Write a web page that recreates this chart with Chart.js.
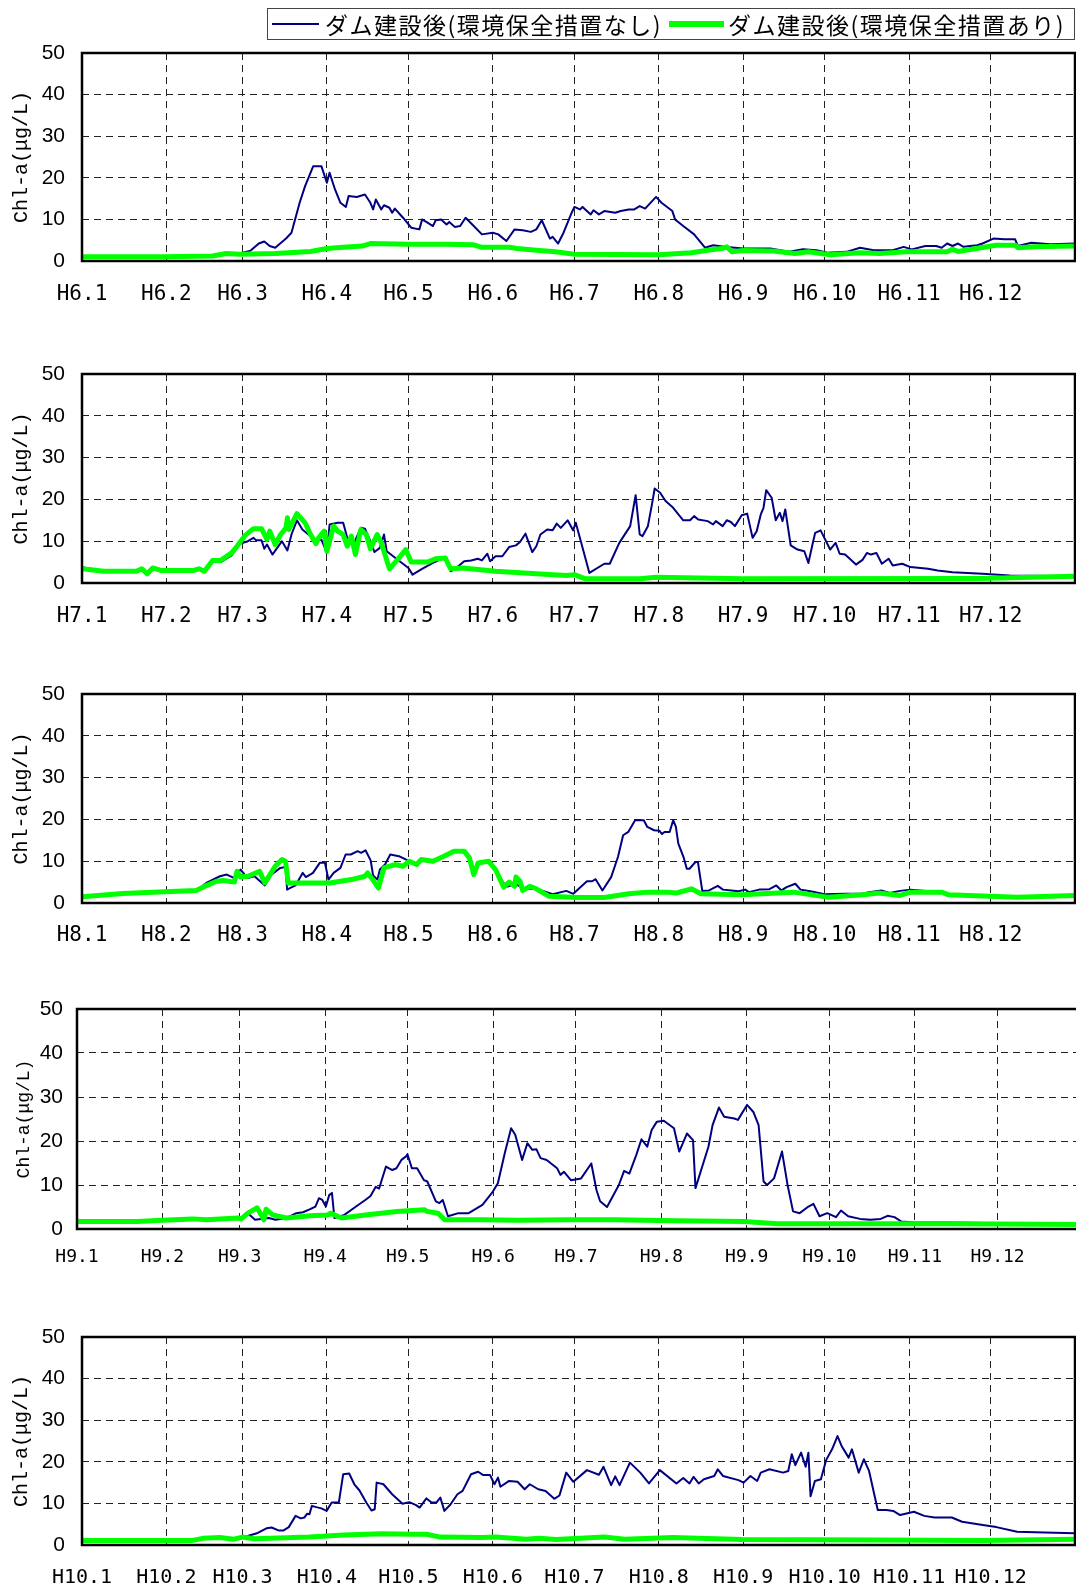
<!DOCTYPE html>
<html>
<head>
<meta charset="utf-8">
<script src="https://cdn.jsdelivr.net/npm/chart.js@4.4.1/dist/chart.umd.min.js"></script>
<style>
body { margin: 0; width: 1076px; height: 1587px; overflow: hidden; background: #fff; position: relative; }
.panel { position: absolute; left: 0; }
#legend { position: absolute; left: 267px; top: 8px; width: 806px; height: 30px; border: 1px solid #444;
  font-family: "Noto Sans CJK JP", sans-serif; font-size: 23px; letter-spacing: 1.5px; color: #000; z-index: 2; background: #fff; }
#legend .sample { position: absolute; top: 15px; }
#legend .label { position: absolute; top: 0; line-height: 30px; white-space: nowrap; }
</style>
</head>
<body>
<div class="panel" id="p0"><canvas></canvas></div>
<div class="panel" id="p1"><canvas></canvas></div>
<div class="panel" id="p2"><canvas></canvas></div>
<div class="panel" id="p3"><canvas></canvas></div>
<div class="panel" id="p4"><canvas></canvas></div>
<div id="legend"></div>
<script>
// days since Jan 1 where each month starts
var monthStarts = [0, 31, 59, 90, 120, 151, 181, 212, 243, 273, 304, 334];
var yearNames = ['H6', 'H7', 'H8', 'H9', 'H10'];
var seriesLabels = ['ダム建設後(環境保全措置なし)', 'ダム建設後(環境保全措置あり)'];
var yTitle = 'Chl-a(μg/L)';

// [day, Chl-a]
var h6Blue = [[0,1],[30,1],[48,1.2],[53,1.8],[57,1.6],[59,2],[62,2.5],[65,4.2],[67,4.7],[69,3.6],[71,3.2],[75,5.4],[77,6.8],[80,14],[82,18],[85,22.8],[88,22.8],[90,18.8],[91,21.2],[93,17.2],[95,14],[97,13],[98,15.6],[101,15.4],[104,16],[106,14],[107,12.4],[108,14.8],[110,12.4],[111,13.4],[113,12.8],[114,11.6],[115,12.6],[118,10.4],[121,8],[124,7.6],[125,10],[127,9.2],[129,8.4],[130,9.8],[132,10],[134,8.8],[135,9.4],[137,8.2],[139,8.4],[141,10.4],[144,8.4],[147,6.4],[151,6.8],[153,6.4],[156,4.8],[159,7.6],[162,7.4],[165,7],[167,7.6],[169,9.8],[172,5.4],[173,5.8],[175,4.2],[177,6.8],[180,11.6],[181,13],[183,12.4],[184,13],[187,11.2],[188,12.2],[190,11.2],[192,12],[196,11.6],[198,12],[201,12.4],[203,12.4],[205,13.2],[207,12.6],[211,15.4],[213,14],[217,12],[218,10],[221,8.4],[225,6.4],[229,3.2],[232,3.8],[236,3.4],[243,3],[253,3],[260,2.2],[265,2.8],[270,2.6],[274,2],[281,2.2],[286,3.2],[291,2.6],[298,2.6],[302,3.4],[305,2.8],[310,3.6],[314,3.6],[316,3.2],[318,4.2],[320,3.6],[322,4.2],[324,3.4],[329,3.8],[331,4.2],[335,5.4],[339,5.2],[343,5.2],[344,3.6],[349,4.4],[356,4],[365,4.2]];
var h6Green = [[0,1],[30,1],[48,1.2],[53,1.8],[58,1.6],[71,1.8],[84,2.3],[90,3],[96,3.3],[103,3.6],[106,4.2],[120,4],[134,4],[144,3.9],[147,3.3],[157,3.3],[160,3],[167,2.6],[174,2.2],[181,1.6],[212,1.5],[224,2],[230,2.6],[235,3],[237,3.4],[239,2.2],[243,2.5],[254,2.4],[262,1.8],[267,2.2],[275,1.5],[286,2],[293,1.8],[303,2.2],[318,2.2],[320,2.8],[322,2.3],[336,3.8],[343,3.8],[344,3.2],[350,3.4],[365,3.6]];

var h7Blue = [[0,3.8],[8,2.9],[20,2.8],[22,3.4],[24,2.2],[26,3.6],[29,3],[41,3],[43,3.4],[45,2.8],[48,5],[51,5],[55,6.6],[58,9.4],[61,10],[63,10.8],[64,10.2],[66,10.2],[67,8.2],[68,9.2],[70,6.8],[73.5,10],[75.5,7.8],[77,11.6],[79,15],[81,12.8],[84,11.2],[86,10],[88,10.4],[90,7.2],[91,14],[94,14.4],[96,14.4],[97.5,10.8],[99.5,8.8],[102.5,13.2],[104,13],[106,10],[107.5,7.4],[109.5,8.4],[111,11.6],[112,7.6],[120,3.6],[121.5,2],[125,3.4],[129,4.8],[133,6],[134,6],[135.5,2.8],[138,3.8],[140.5,5.2],[143,5.4],[145.5,5.8],[147,5.4],[149,7],[150,5.2],[152,6.4],[154.5,6.4],[157,8.6],[159.5,9],[161,9.8],[163,11.8],[165.5,7.4],[167,8.8],[168.5,11.6],[171,12.8],[173,12.6],[174.5,14.2],[176,13.2],[178.5,15],[180.5,12.6],[181.5,14.4],[183,10.8],[186.5,2.4],[192,4.6],[194,4.6],[197.5,9.6],[201.5,13.6],[203.5,21],[205,11.6],[206,11.2],[208,13.6],[209.5,18.8],[210.5,22.6],[212.5,21.6],[214.5,19.6],[217,18.2],[221,15],[223.5,15],[225,16],[226.5,15.2],[230,14.8],[232,14],[233,14.8],[235.5,13.6],[237,15],[238.5,14.6],[240,13.6],[242.5,16.2],[244.5,16.6],[246.5,10.8],[248,12.4],[249.5,16.4],[250.5,18],[251.5,22.2],[253.5,20.4],[255,15],[256.5,16.8],[257.5,14.8],[258.5,17.6],[260.5,9],[263,8],[265.5,7.6],[267,4.8],[268.5,9.2],[269.5,12],[271.5,12.6],[275,8],[277,9.6],[278.5,7],[280.5,6.8],[284.5,4.4],[287,5.6],[288.5,7.2],[290,6.8],[292,7.2],[294,4.6],[296.5,5.8],[298,4.2],[301.5,4.6],[304.5,3.8],[311,3.4],[314.5,3],[320,2.6],[331,2.2],[341,1.8],[365,1.6]];
var h7Green = [[0,3.4],[8,2.8],[20,2.8],[22,3.4],[24,2.2],[26,3.6],[29,3],[41,3],[43,3.4],[45,2.8],[48,5.4],[51,5.4],[55,7.2],[57,8.8],[60,11.4],[63,13],[66,13],[68,10.4],[69,12.4],[71,9.2],[73,11.6],[75,13.2],[75.5,15.6],[76,12.8],[77,14],[79,16.6],[82,14.4],[84,11.6],[86,9.4],[87,10.8],[89,12.4],[90,7.6],[92.5,13.6],[94,12.4],[96,11.6],[97.5,8.8],[99,11.2],[100.5,6.8],[102.5,12.8],[104.5,11.6],[106,8.2],[108.5,11.6],[110,9.6],[113,3.4],[116,5.6],[119,8],[121,5],[127,5],[130,5.8],[133.5,6],[135.5,3.4],[140,3.6],[152,2.8],[167,2.2],[178,1.8],[181,2],[185,1],[205,1],[211,1.4],[243,1],[330,1.1],[365,1.6]];

var h8Blue = [[0,1.5],[15,2.3],[30.5,2.7],[42,3],[45.7,4.8],[50.7,6.4],[53.2,6.8],[55.8,6],[58.3,8],[60.8,6],[63.4,6.4],[67.2,4.2],[69.7,6.8],[72.9,8.4],[74.8,8.6],[75.4,3.2],[76.6,3.6],[78.5,4.2],[81.1,7.2],[82.3,6.2],[84.9,7.2],[87.4,9.6],[89.3,9.6],[90.6,5.6],[92.5,7.2],[95,8.4],[96.9,11.6],[98.8,11.6],[101.3,12.4],[102.6,12],[104.2,12.6],[106.1,10.2],[107,6.6],[108.6,5.6],[109.5,8],[111.4,9.2],[113.3,11.6],[116.5,11.2],[120.3,10],[123,9.2],[124.7,10.4],[129,10],[133,11.2],[136.7,12.4],[140.5,12.4],[142.4,10.8],[144,8],[145.6,9.6],[149.4,10],[152,8],[155.8,3.8],[159.5,4.6],[162,3.4],[167,3.4],[173,2.1],[178,2.9],[180.6,2.2],[185.6,5.2],[187.5,5.2],[188.8,5.7],[191.3,3],[194.5,6.2],[197,11],[198.9,16.2],[200.8,17],[203.3,19.8],[206.5,19.8],[207.8,18.2],[210.3,17.4],[212.2,17.3],[213.2,16.5],[214.1,17],[216,17],[217.3,19.8],[218.3,18.2],[219.2,14.2],[221.1,11],[222.3,8.2],[223.3,8.2],[225.5,9.8],[226.4,9.8],[228,2.9],[230.5,3],[233.7,4.1],[235.6,3.2],[238.7,3],[241.3,2.8],[243.8,3.2],[245.1,2.6],[248.9,3.2],[252.7,3.3],[255.2,4.2],[257.1,3],[259,3.8],[262.2,4.6],[264.1,3.2],[267.8,2.8],[272.9,2.1],[280.5,2.2],[286.8,2.2],[289.3,2.6],[293.8,3],[296.9,2.4],[300.7,2.9],[304.5,3.2],[316,2.6],[318.4,2],[343.7,1.4],[365,1.8]];
var h8Green = [[0,1.5],[15,2.3],[30.5,2.7],[42,3],[45.5,4.1],[49.5,5.2],[52,5.4],[56,5],[57,7.6],[58.3,6.2],[61,6.4],[65.3,7.6],[67.2,4.8],[71,8.8],[73.5,10.4],[74.8,10],[75.8,4.8],[80,4.8],[91,4.8],[99,5.6],[104,6.4],[105,7.2],[106.4,6],[109,3.6],[111,8.4],[115,9.2],[118,8.8],[120.3,10],[123,9.2],[124.7,10.4],[129,10],[133,11.2],[136.7,12.4],[140.5,12.4],[142.4,10.8],[144,6.8],[145.6,9.6],[149.4,10],[152,8],[155,3.8],[157,5],[159,4],[159.5,6.2],[161,5.2],[162,3],[164.6,4],[167,3.4],[171.7,1.6],[182,1.3],[192,1.3],[201,2.2],[208,2.6],[215,2.6],[218.5,2.4],[224,3.4],[227.5,2.2],[242.5,2],[261.5,2.6],[274,1.4],[287,2],[293,2.4],[300.7,1.8],[304.5,2.6],[316,2.6],[318.4,2],[343.7,1.4],[365,1.8]];

var h9Blue = [[0,1.7],[22,1.7],[31,2],[42,2.3],[47,2.1],[58.4,2.5],[59.6,2.3],[62,3.6],[64.6,2.1],[69.6,2.5],[72,2.1],[76,2.5],[79.6,3.6],[82,3.8],[84.6,4.5],[86.5,5.1],[87.8,7],[89,6.6],[90.3,5.1],[91.5,7.7],[92.5,8.2],[93.4,2.5],[97,3.2],[101,5],[104.6,6.6],[106.5,7.5],[108.4,9.6],[109.6,9.2],[112.1,14.2],[114.4,13.4],[115.9,13.8],[117.7,15.7],[119.4,16.5],[119.9,17],[121.5,13.8],[123.4,13.8],[125.9,11.1],[127.1,10.8],[130.2,6.3],[131.5,5.9],[132.7,6.6],[134.6,2.9],[138.4,3.6],[142.1,3.6],[147.1,5.5],[150.9,8.5],[152.7,10.4],[155.2,17.2],[157.5,22.9],[159,21.4],[161.5,15.7],[163.4,19.5],[165.2,18],[166.7,18.1],[168.2,16.1],[170.4,15.7],[174.2,13.8],[175.4,12.3],[176.7,13],[179.2,11.1],[182.9,11.5],[186.6,14.9],[188.5,8.8],[189.8,6.3],[192.3,5],[196.6,10],[198.5,13.2],[200.4,12.6],[202.9,16.8],[204.8,20.4],[206.9,18.7],[208.5,22.5],[210.4,24.4],[212.9,24.6],[216.6,22.9],[218.5,17.6],[221.3,21.7],[223.5,20.2],[224.4,9.3],[229.1,18.7],[230.6,23.6],[232.9,27.6],[234.8,25.5],[238.5,25.1],[239.8,24.8],[243.1,28.2],[245.4,26.6],[247.3,23.6],[249.1,10.8],[250.4,10],[252.9,11.5],[255.8,17.6],[257.9,9.7],[259.8,4],[262.2,3.6],[265.4,5.1],[267.2,5.7],[269.4,2.9],[272.2,3.6],[275.4,2.7],[277.2,4.2],[279.8,2.9],[284.1,2.3],[287.9,2.1],[291.6,2.3],[294.1,3],[296.6,2.7],[299.1,1.7],[304.1,1.5],[317,1.5],[365,1]];
var h9Green = [[0,1.7],[22,1.7],[31,2],[42,2.3],[47,2.1],[58.4,2.5],[59.6,2.3],[62,3.6],[65.3,4.8],[66.5,3.6],[67.8,2.1],[68.6,4.5],[71,3.2],[76,2.5],[84.6,3],[91,3.2],[92,3.6],[96,2.5],[104.6,3.2],[116,4],[126,4.4],[127,4],[131,3.6],[133.4,2.1],[147,2.1],[160,2],[179,2.1],[195,2.1],[217,1.9],[242,1.7],[254,1.2],[292,1.2],[317,1.2],[365,1]];

var h10Blue = [[0,1.1],[40.6,1.1],[44.4,1.6],[50.7,1.8],[55.8,1.4],[59,1.8],[64.6,2.9],[67.8,4],[69.7,4.2],[72.2,3.5],[74.1,3.5],[76,4.3],[78.5,7],[80.4,6.4],[81.7,6.6],[82.7,7.5],[83.6,7.4],[84.5,9.4],[86.1,9.1],[88,8.8],[89.9,8.2],[91.8,10.2],[94.4,10.2],[96,17],[98.2,17.2],[100.1,14.6],[102,13.1],[104.5,10.2],[106.4,8.3],[107.6,8.6],[108.3,15],[110.8,14.6],[114,12.2],[117.8,9.9],[120.3,10.3],[122.8,9.6],[124.1,9],[126.6,11.2],[128.5,10.2],[130.4,10.3],[131.7,11.4],[133.2,8.2],[135.5,9.8],[138,12.2],[139.9,13],[143,17],[145.6,17.6],[147.5,16.8],[150,16.8],[151.6,14.6],[152.9,16.2],[153.8,14],[157,15.4],[160.1,15.2],[162.7,13.4],[164.6,14.6],[167.7,13.4],[170.4,13],[173.6,11.1],[175.5,11.9],[178,17.4],[180.6,15.2],[185.6,18],[190,16.9],[191.7,18.8],[194.5,14.4],[196,16.5],[197.6,14.4],[201.4,19.8],[205.2,17.4],[208.4,14.8],[212.4,18],[218.5,14.8],[221,16.1],[223.3,14.8],[224.8,16.4],[226.7,14.8],[228.6,15.8],[232.4,16.6],[233.7,18.2],[235.6,16.6],[241.3,15.6],[243.2,15],[245.7,16.6],[248.2,15.4],[249.5,17.4],[252.7,18.2],[257.7,17.4],[259.6,17.8],[260.9,21.8],[262.2,19.2],[264.3,22.2],[266,18.8],[267,22.2],[267.8,11.7],[269.4,15.4],[271.6,15.8],[273.5,20.4],[275.7,23],[277.7,26.2],[279.2,23.8],[281.8,21],[283,23],[285.5,17.4],[287.4,20.6],[289.3,17.8],[292.5,8.4],[295.7,8.4],[298.2,8.2],[300.7,7.2],[305.8,8],[309.6,7],[313.4,6.6],[319.7,6.6],[323.5,5.6],[331.1,4.8],[336.1,4.3],[343.7,3.2],[353.8,3],[365,2.8]];
var h10Green = [[0,1.1],[40.6,1.1],[44.4,1.6],[50.7,1.8],[55.8,1.4],[59,1.9],[63.4,1.5],[83.6,1.9],[96.3,2.4],[110.2,2.7],[121.6,2.6],[126.6,2.6],[131.7,1.9],[147,1.8],[152,1.9],[163.3,1.4],[168,1.6],[174.2,1.3],[192,1.9],[199.5,1.4],[217.2,1.8],[242.5,1.3],[293,1.2],[331,1.1],[365,1.4]];

var blueSeries = [h6Blue, h7Blue, h8Blue, h9Blue, h10Blue];
var greenSeries = [h6Green, h7Green, h8Green, h9Green, h10Green];

var blueColor = '#000080';
var greenColor = '#00ff00';

// page layout of each panel (not data); plot top = top + 16
var panelBoxes = [
    { top: 37, height: 274, width: 1076, plotLeft: 82, xFont: 21, xPad: 21, yPad: 17, titleSize: 20, titlePad: 10 },
    { top: 358, height: 275, width: 1076, plotLeft: 82, xFont: 21, xPad: 21, yPad: 17, titleSize: 20, titlePad: 10 },
    { top: 678, height: 275, width: 1076, plotLeft: 82, xFont: 21, xPad: 20, yPad: 17, titleSize: 20, titlePad: 10 },
    { top: 993, height: 286, width: 1084, plotLeft: 77, xFont: 18, xPad: 18, yPad: 14, titleSize: 18, titlePad: 13 },
    { top: 1321, height: 274, width: 1076, plotLeft: 82, xFont: 20, xPad: 21, yPad: 17, titleSize: 20, titlePad: 10 }
];

// legend above the first panel
(function () {
    var legend = document.getElementById('legend');
    var items = [
        { left: 4, width: 47, thick: 2, color: blueColor, textLeft: 57 },
        { left: 401, width: 55, thick: 6, color: greenColor, textLeft: 460 }
    ];
    items.forEach(function (it, i) {
        var s = document.createElement('div');
        s.className = 'sample';
        s.style.left = it.left + 'px';
        s.style.width = it.width + 'px';
        s.style.height = it.thick + 'px';
        s.style.marginTop = (-it.thick / 2) + 'px';
        s.style.background = it.color;
        legend.appendChild(s);
        var t = document.createElement('div');
        t.className = 'label';
        t.style.left = it.textLeft + 'px';
        t.textContent = seriesLabels[i];
        legend.appendChild(t);
    });
})();

var framePlugin = {
    id: 'frame',
    afterDatasetsDraw: function (chart) {
        var a = chart.chartArea, ctx = chart.ctx;
        ctx.save();
        ctx.lineWidth = 2.5;
        ctx.strokeStyle = '#000';
        ctx.strokeRect(a.left, a.top, a.right - a.left, a.bottom - a.top);
        ctx.restore();
    }
};

function toPoints(pairs) {
    return pairs.map(function (p) { return { x: p[0], y: p[1] }; });
}

yearNames.forEach(function (year, i) {
    var box = panelBoxes[i];
    var holder = document.getElementById('p' + i);
    holder.style.top = box.top + 'px';
    holder.style.width = box.width + 'px';
    holder.style.height = box.height + 'px';

    new Chart(holder.querySelector('canvas'), {
        type: 'line',
        data: {
            datasets: [
                { label: seriesLabels[0], data: toPoints(blueSeries[i]), borderColor: blueColor, borderWidth: 2, order: 1 },
                { label: seriesLabels[1], data: toPoints(greenSeries[i]), borderColor: greenColor, borderWidth: 5, order: 0 }
            ]
        },
        options: {
            responsive: true,
            maintainAspectRatio: false,
            animation: false,
            layout: { padding: { top: 16, right: 1, left: 0, bottom: 0 } },
            elements: { point: { radius: 0 }, line: { tension: 0, borderJoinStyle: 'round' } },
            plugins: { legend: { display: false }, tooltip: { enabled: false } },
            scales: {
                x: {
                    type: 'linear',
                    min: 0,
                    max: 365,
                    afterBuildTicks: function (axis) {
                        axis.ticks = monthStarts.map(function (v) { return { value: v }; });
                    },
                    afterFit: function (axis) { axis.height = 50; },
                    ticks: {
                        autoSkip: false,
                        maxRotation: 0,
                        padding: box.xPad,
                        color: '#000',
                        font: { family: 'DejaVu Sans Mono', size: box.xFont },
                        callback: function (v, idx) { return year + '.' + (idx + 1); }
                    },
                    grid: { color: '#222', lineWidth: 1, drawTicks: false },
                    border: { display: false, dash: [7, 5] }
                },
                y: {
                    min: 0,
                    max: 50,
                    afterFit: function (axis) {
                        axis.width = box.plotLeft;
                        // let the plot reach the panel top: no extra room for the "50" label
                        axis.paddingTop = 0;
                        axis.paddingBottom = 0;
                    },
                    ticks: {
                        stepSize: 10,
                        padding: box.yPad,
                        color: '#000',
                        font: { family: 'Liberation Sans', size: 21 }
                    },
                    title: {
                        display: true,
                        text: yTitle,
                        color: '#000',
                        padding: { top: box.titlePad, bottom: 0 },
                        font: { family: 'Liberation Mono', size: box.titleSize }
                    },
                    grid: { color: '#222', lineWidth: 1, drawTicks: false },
                    border: { display: false, dash: [7, 5] }
                }
            }
        },
        plugins: [framePlugin]
    });
});
</script>
</body>
</html>
